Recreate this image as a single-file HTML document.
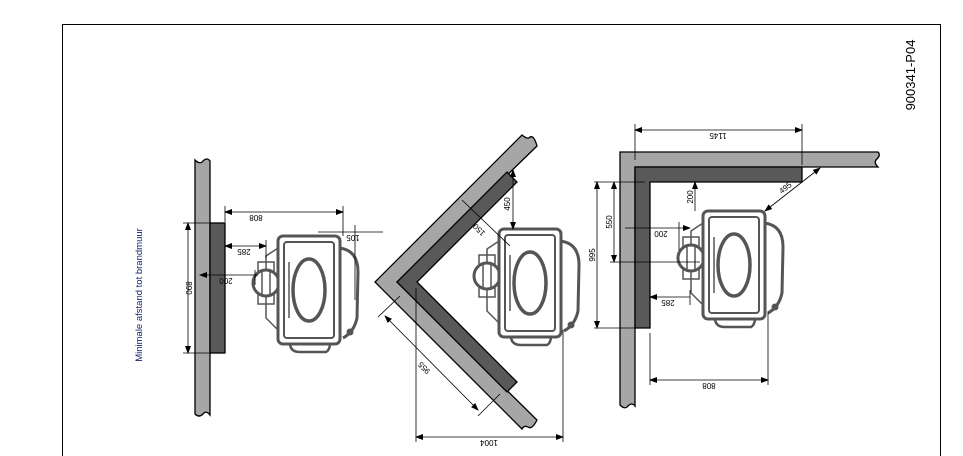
<!DOCTYPE html>
<html><head><style>html,body{margin:0;background:#fff;width:963px;height:456px;overflow:hidden}svg{display:block}</style></head>
<body>
<svg width="963" height="456" viewBox="0 0 963 456" xmlns="http://www.w3.org/2000/svg" font-family="Liberation Sans, sans-serif">
<defs>
<marker id="a" markerWidth="8" markerHeight="6" refX="7" refY="3" orient="auto-start-reverse" markerUnits="userSpaceOnUse"><path d="M0,0 L8,3 L0,6z" fill="#000"/></marker>
<g id="stove" fill="none" stroke="#555">
  <path d="M266,256 L278,248 L278,330 L266,318 Z" stroke-width="1.5" fill="#fff"/>
  <rect x="258" y="262" width="16" height="42" stroke-width="1.5"/>
  <circle cx="266" cy="283" r="13" stroke-width="3" fill="#fff"/>
  <line x1="262" y1="272" x2="262" y2="294" stroke-width="1.5"/>
  <line x1="270" y1="272" x2="270" y2="294" stroke-width="1.5"/>
  <path d="M339,248 Q358,250 358,272 L357,318 Q354,332 343,338" stroke-width="3"/>
  <path d="M290,343 Q290,352 300,352 L326,352 Q330,350 330,343" stroke-width="2.5"/>
  <rect x="278" y="236" width="62" height="108" rx="5" stroke-width="3" fill="#fff"/>
  <rect x="284" y="242" width="50" height="96" rx="3" stroke-width="2"/>
  <ellipse cx="309" cy="290" rx="16" ry="31" stroke-width="3.5"/>
  <line x1="289" y1="262" x2="289" y2="318" stroke-width="1.5"/>
  <circle cx="350" cy="332" r="3" fill="#555"/>
</g>
</defs>
<path d="M62.5,456 L62.5,24.5 L940.5,24.5 L940.5,456" fill="none" stroke="#000"/>
<text transform="translate(142,295) rotate(-90)" text-anchor="middle" font-size="9.5" fill="#14206a">Minimale afstand tot brandmuur</text>
<text transform="translate(915,75) rotate(-90)" text-anchor="middle" font-size="13" fill="#000">900341-P04</text>

<g stroke="#000" stroke-width="1.3">
<path d="M195,160 Q200,165 203,161 Q207,157 210,161 L210,415 Q206,410 203,414 Q199,418 195,414 Z" fill="#a6a6a6"/>
<rect x="210" y="223" width="15" height="130" fill="#595959"/>
<path d="M522,135 Q528,140 530,137 Q534,135 537,146 L397,282 L537,420 Q532,430 528,427 Q524,425 522,429 L375,282 Z" fill="#a6a6a6"/>
<path d="M507,172 L517,182 L417,282 L517,382 L507,392 L397,282 Z" fill="#595959"/>
<path d="M620,405 Q625,410 628,406 Q632,402 635,406 L635,167 L878,167 Q873,162 877,159 Q881,155 878,152 L620,152 Z" fill="#a6a6a6"/>
<path d="M635,167 L802,167 L802,182 L650,182 L650,328 L635,328 Z" fill="#595959"/>
</g>

<use href="#stove"/>
<use href="#stove" transform="translate(221,-7)"/>
<use href="#stove" transform="translate(425,-25)"/>

<g stroke="#000" stroke-width="0.8" fill="none">
<line x1="225" y1="206" x2="225" y2="222"/><line x1="343" y1="206" x2="343" y2="236"/>
<line x1="225" y1="212" x2="343" y2="212" marker-start="url(#a)" marker-end="url(#a)"/>
<line x1="355" y1="225" x2="355" y2="300"/>
<line x1="318" y1="232" x2="383" y2="232"/>
<line x1="225" y1="246" x2="266" y2="246" marker-start="url(#a)" marker-end="url(#a)"/><line x1="266" y1="240" x2="266" y2="258"/>
<line x1="200" y1="275" x2="258" y2="275" marker-start="url(#a)"/><line x1="255" y1="270" x2="255" y2="285"/>
<line x1="183" y1="223" x2="210" y2="223"/><line x1="183" y1="353" x2="210" y2="353"/>
<line x1="188" y1="223" x2="188" y2="353" marker-start="url(#a)" marker-end="url(#a)"/>
<line x1="513" y1="170" x2="513" y2="229" marker-start="url(#a)" marker-end="url(#a)"/>
<line x1="462" y1="200" x2="510" y2="246"/>
<line x1="385" y1="316" x2="478" y2="410" marker-start="url(#a)" marker-end="url(#a)"/>
<line x1="378" y1="317" x2="400" y2="296"/><line x1="478" y1="416" x2="500" y2="394"/>
<line x1="416" y1="288" x2="416" y2="442"/><line x1="563" y1="330" x2="563" y2="442"/>
<line x1="416" y1="437" x2="563" y2="437" marker-start="url(#a)" marker-end="url(#a)"/>
<line x1="635" y1="124" x2="635" y2="160"/><line x1="802" y1="124" x2="802" y2="165"/>
<line x1="635" y1="130" x2="802" y2="130" marker-start="url(#a)" marker-end="url(#a)"/>
<line x1="695" y1="182" x2="695" y2="211" marker-start="url(#a)"/>
<line x1="765" y1="211" x2="820" y2="168" marker-start="url(#a)" marker-end="url(#a)"/>
<line x1="594" y1="182" x2="645" y2="182"/><line x1="594" y1="328" x2="650" y2="328"/>
<line x1="610" y1="262" x2="700" y2="262"/>
<line x1="597" y1="182" x2="597" y2="328" marker-start="url(#a)" marker-end="url(#a)"/>
<line x1="614" y1="182" x2="614" y2="262" marker-start="url(#a)" marker-end="url(#a)"/>
<line x1="625" y1="228" x2="690" y2="228" marker-end="url(#a)"/><line x1="679" y1="222" x2="679" y2="250"/>
<line x1="650" y1="297" x2="690" y2="297" marker-start="url(#a)"/><line x1="690" y1="290" x2="690" y2="305"/>
<line x1="650" y1="333" x2="650" y2="385"/><line x1="768" y1="312" x2="768" y2="385"/>
<line x1="650" y1="380" x2="768" y2="380" marker-start="url(#a)" marker-end="url(#a)"/>
</g>
<g font-size="8" fill="#000" text-anchor="middle">
<text transform="translate(256,215) rotate(180)">808</text>
<text transform="translate(353,235) rotate(180)">105</text>
<text transform="translate(244,249) rotate(180)">285</text>
<text transform="translate(226,278) rotate(180)">200</text>
<text transform="translate(186,288) rotate(90)">890</text>
<text transform="translate(510,204) rotate(-90)">450</text>
<text transform="translate(481,228) rotate(225)">150</text>
<text transform="translate(426,366) rotate(225)">955</text>
<text transform="translate(489,440) rotate(180)">1004</text>
<text transform="translate(718,133) rotate(180)">1145</text>
<text transform="translate(693,197) rotate(-90)">200</text>
<text transform="translate(787,190) rotate(-38)">495</text>
<text transform="translate(612,222) rotate(-90)">550</text>
<text transform="translate(595,255) rotate(-90)">995</text>
<text transform="translate(661,231) rotate(180)">200</text>
<text transform="translate(668,300) rotate(180)">285</text>
<text transform="translate(709,383) rotate(180)">808</text>
</g>
</svg>
</body></html>
